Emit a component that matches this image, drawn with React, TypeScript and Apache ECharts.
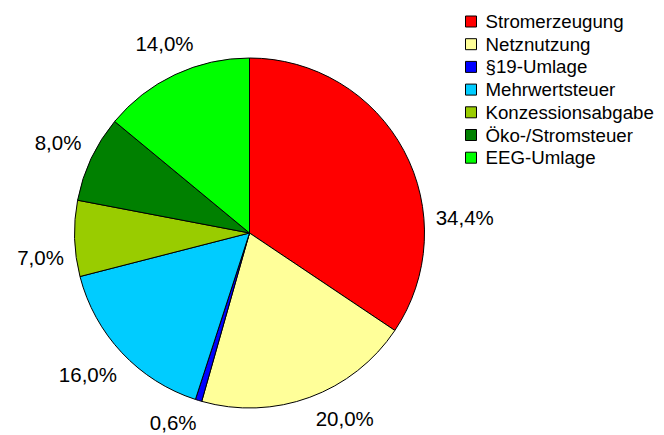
import React, { useEffect, useRef } from "react";
import * as echarts from "echarts";

const categories = [
  "Stromerzeugung",
  "Netznutzung",
  "§19-Umlage",
  "Mehrwertsteuer",
  "Konzessionsabgabe",
  "Öko-/Stromsteuer",
  "EEG-Umlage",
];
const values = [34.4, 20.0, 0.6, 16.0, 7.0, 8.0, 14.0];
const colors = ["#FF0000", "#FFFF99", "#0000FF", "#00CCFF", "#99CC00", "#008000", "#00FF00"];

// layout
const CX = 249.5;
const CY = 233;
const R = 175;
const LABEL_GAP = 11;
const LABEL_ANGLE_SHIFT = [24, -7, 5, 2, -5, 0, 1];
const FONT = "'Liberation Sans', Arial, sans-serif";

export default function App() {
  const ref = useRef<HTMLDivElement>(null);
  useEffect(() => {
    if (!ref.current) return;
    const chart = echarts.init(ref.current, undefined, { renderer: "svg" });
    const total = values.reduce((a, b) => a + b, 0);
    const midAngles: number[] = [];
    let acc = 0;
    values.forEach((v) => {
      midAngles.push(((acc + v / 2) / total) * 360);
      acc += v;
    });
    chart.setOption({
      animation: false,
      backgroundColor: "#fff",
      legend: {
        orient: "vertical",
        left: 465,
        top: 11.5,
        padding: 0,
        itemWidth: 11,
        itemHeight: 11,
        itemGap: 2.7,
        icon: "rect",
        itemStyle: { borderColor: "#000", borderWidth: 1 },
        textStyle: {
          fontFamily: FONT,
          fontSize: 18.7,
          color: "#000",
          lineHeight: 20,
          padding: [0, 0, 0, 4],
        },
        data: categories,
      },
      series: [
        {
          type: "pie",
          center: [CX, CY],
          radius: R,
          startAngle: 90,
          clockwise: true,
          avoidLabelOverlap: false,
          itemStyle: { borderColor: "#000", borderWidth: 1 },
          emphasis: { disabled: true },
          label: {
            show: true,
            position: "outside",
            fontFamily: FONT,
            fontSize: 20.5,
            color: "#000",
            formatter: (p: any) => p.value.toFixed(1).replace(".", ",") + "%",
          },
          labelLine: { show: false },
          labelLayout: (p: any) => {
            const i = p.dataIndex;
            const a = ((midAngles[i] + LABEL_ANGLE_SHIFT[i]) * Math.PI) / 180;
            const dx = Math.sin(a);
            const dy = -Math.cos(a);
            const w = p.labelRect.width;
            const h = p.labelRect.height;
            const support = Math.abs(dx) * (w / 2) + Math.abs(dy) * (h / 2);
            const d = R + LABEL_GAP + support;
            return {
              x: CX + dx * d,
              y: CY + dy * d,
              align: "center",
              verticalAlign: "middle",
            };
          },
          data: categories.map((name, i) => ({
            name,
            value: values[i],
            itemStyle: { color: colors[i] },
          })),
        },
      ],
    });
    return () => chart.dispose();
  }, []);
  return (
    <div
      ref={ref}
      style={{ position: "fixed", left: 0, top: 0, width: 664, height: 435 }}
    />
  );
}
